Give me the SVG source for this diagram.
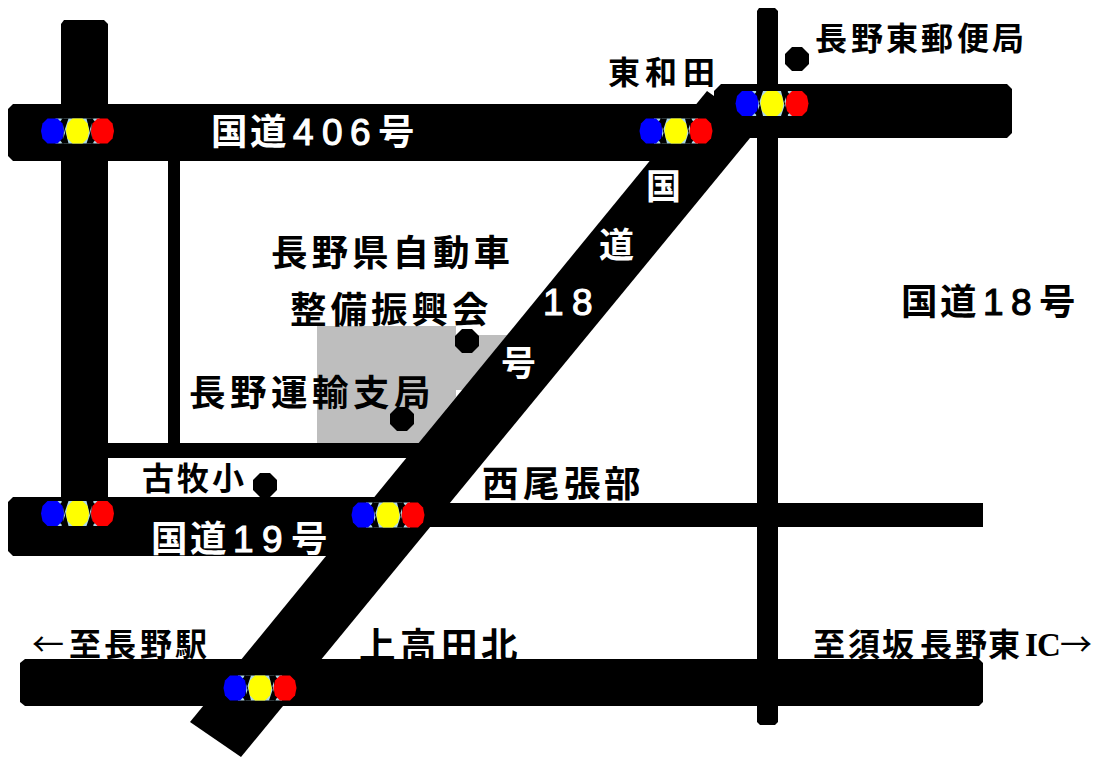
<svg xmlns="http://www.w3.org/2000/svg" width="1097" height="757" viewBox="0 0 1097 757">
<style>
.road{fill:#000}
.dot{fill:#000}
text{font-family:"Noto Sans CJK JP","Liberation Sans",sans-serif;font-weight:700;fill:#000}
.w{fill:#fff}
.t36{font-size:36.500px}.t34{font-size:35px}.t31{font-size:32px}
.d{font-family:"Liberation Sans",sans-serif;font-weight:400;font-size:37px;stroke-width:1.100px}
.dw{stroke:#fff;fill:#fff}.dk{stroke:#000}
.ar{font-weight:400}
.ic{font-family:"Liberation Serif",serif;font-size:33px}
</style>
<defs>
<g id="signal">
<rect x="-36.500" y="-12.500" width="73" height="25" fill="#000"/>
<rect x="-22" y="-12.500" width="44" height="25" fill="#add8e6"/>
<polygon fill="#000" points="-16,-12.500 -9,-12.500 -12.500,-2 -9,12.500 -16,12.500 -12.500,2"/>
<polygon fill="#000" points="9,-12.500 16,-12.500 12.500,-2 16,12.500 9,12.500 12.500,2"/>
<polygon fill="#000" points="-22,-5 -22,5 -14,13 -14,-13"/>
<polygon fill="#000" points="22,-5 22,5 14,13 14,-13"/>
<polygon fill="#00f" points="-30,-12.500 -20,-12.500 -15,-7.500 -13.500,0 -15,7.500 -20,12.500 -30,12.500 -35,7.500 -36.500,0 -35,-7.500"/>
<polygon fill="#ff0" points="-5,-12.500 5,-12.500 10,-7.500 11.500,0 10,7.500 5,12.500 -5,12.500 -10,7.500 -11.500,0 -10,-7.500"/>
<polygon fill="#f00" points="20,-12.500 30,-12.500 35,-7.500 36.500,0 35,7.500 30,12.500 20,12.500 15,7.500 13.500,0 15,-7.500"/>
</g>
<polygon id="oct" points="-5,-12 5,-12 12,-5 12,5 5,12 -5,12 -12,5 -12,-5"/>
</defs>
<rect width="1097" height="757" fill="#fff"/>
<polygon id="office-area" fill="#bebebe" points="317,326 456,326 456,335 510,335 463,390 456,390 456,397 418,444 317,444"/>
<g id="connectors">
<polygon class="road" points="64,20 104,20 108,24 108,500 61,500 61,24"/>
<polygon class="road" points="13,104 720,104 720,161 13,161 8,156 8,109"/>
<polygon class="road" points="721,84 1007,84 1012,89 1012,133 1007,138 714,138 714,91"/>
<polygon class="road" points="759,8 775,8 778,11 778,722 775,725 760,725 757,722 757,11"/>
<polygon class="road" points="190,722 707,91 714,96 750,138 241,757"/>
<rect class="road" x="168" y="161" width="12" height="283"/>
<rect class="road" x="108" y="443" width="315" height="15"/>
<polygon class="road" points="13,497 400,497 400,556 13,556 8,551 8,502"/>
<polygon class="road" points="420,503 983,503 983,527 420,527"/>
<polygon class="road" points="25,659 979,659 983,663 983,702 979,706 25,706 20,702 20,663"/>
</g>
<g id="dot-yubinkyoku"><use href="#oct" transform="translate(797,59)"/></g>
<g id="dot-shinko"><use href="#oct" transform="translate(467,341)"/></g>
<g id="dot-unyu"><use href="#oct" transform="translate(402,419)"/></g>
<g id="dot-komaki"><use href="#oct" transform="translate(265,485)"/></g>
<g id="signal-1"><use href="#signal" transform="translate(77.500,131)"/></g>
<g id="signal-2"><use href="#signal" transform="translate(676,131)"/></g>
<g id="signal-3"><use href="#signal" transform="translate(772,103.500)"/></g>
<g id="signal-4"><use href="#signal" transform="translate(77.500,513.500)"/></g>
<g id="signal-5"><use href="#signal" transform="translate(388,515)"/></g>
<g id="signal-6"><use href="#signal" transform="translate(260,688)"/></g>
<g id="labels">
<text class="t31" x="608 645 683" y="84">東和田</text>
<text class="t31" x="815 851 886 921 957 992" y="50">長野東郵便局</text>
<text class="t36 w" y="145"><tspan x="211 250">国道</tspan><tspan class="d dw" x="293 322 350">406</tspan><tspan x="378">号</tspan></text>
<text class="t34 w" x="646" y="199">国</text>
<text class="t34 w" x="599" y="258">道</text>
<text class="d dw" x="543 572" y="315">18</text>
<text class="t34 w" x="501" y="376">号</text>
<text class="t36" x="271 311.500 352 392.500 433 473.500" y="266">長野県自動車</text>
<text class="t36" x="290 330.500 371 411.500 452" y="323">整備振興会</text>
<text class="t36" x="189 230 271 312 353 394" y="406">長野運輸支局</text>
<text class="t36" y="315"><tspan x="901 940">国道</tspan><tspan class="d dk" x="983 1011">18</tspan><tspan x="1039">号</tspan></text>
<text class="t31" x="142 177 212" y="490">古牧小</text>
<text class="t36" x="482 523 564 604" y="497">西尾張部</text>
<text class="t36 w" y="552"><tspan x="151 190">国道</tspan><tspan class="d dw" x="233 262">19</tspan><tspan x="291">号</tspan></text>
<text class="t36" x="359 400 441 481" y="659">上高田北</text>
<text class="t31" y="656"><tspan class="ar" x="32">←</tspan><tspan x="69 104 140 175">至長野駅</tspan></text>
<text class="t31" y="656"><tspan x="813 848 882 920 955 988">至須坂長野東</tspan><tspan class="ic" x="1025 1037">IC</tspan><tspan class="ar" x="1060">→</tspan></text>
</g>
</svg>
